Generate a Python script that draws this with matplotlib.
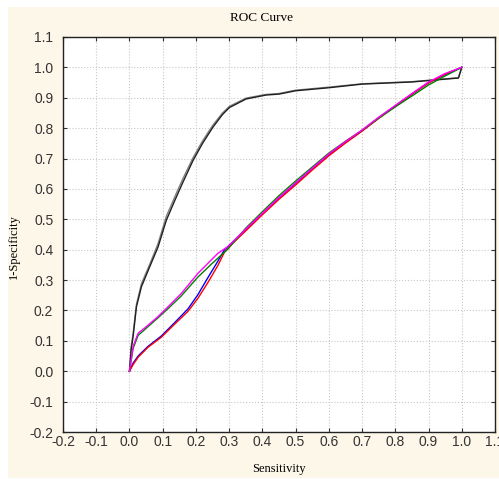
import matplotlib
matplotlib.use("Agg")
import matplotlib.pyplot as plt
from matplotlib.patches import Rectangle

# --- data ---
black_x = [0, 0.005, 0.011, 0.021, 0.036, 0.061, 0.086, 0.111, 0.136, 0.16, 0.191, 0.22, 0.251,
           0.28, 0.301, 0.351, 0.411, 0.45, 0.5, 0.55, 0.6, 0.7, 0.85, 0.99, 1.0]
black_y = [0, 0.07, 0.114, 0.212, 0.278, 0.344, 0.409, 0.497, 0.561, 0.62, 0.693, 0.75, 0.803,
           0.845, 0.868, 0.896, 0.909, 0.912, 0.923, 0.928, 0.933, 0.945, 0.952, 0.965, 1.0]
grey_y = [0, 0.08, 0.125, 0.22, 0.288, 0.352, 0.42, 0.51, 0.573, 0.632, 0.702, 0.758, 0.81,
          0.85, 0.872, 0.899, 0.911, 0.914, 0.925, 0.93, 0.935, 0.946, 0.953, 0.966, 1.0]

blue_x = [0, 0.01, 0.026, 0.056, 0.096, 0.136, 0.176, 0.206, 0.236, 0.266, 0.286, 0.31,
          0.35, 0.4, 0.45, 0.5, 0.55, 0.6, 0.65, 0.7, 0.75, 0.8, 0.85, 0.9, 0.95, 1.0]
blue_y = [0, 0.025, 0.05, 0.082, 0.116, 0.16, 0.205, 0.252, 0.308, 0.362, 0.4, 0.424,
          0.466, 0.518, 0.57, 0.618, 0.666, 0.713, 0.753, 0.792, 0.834, 0.873, 0.912, 0.949, 0.977, 1.0]
red_y = [0, 0.02, 0.046, 0.079, 0.112, 0.155, 0.197, 0.24, 0.292, 0.348, 0.392, 0.42,
         0.462, 0.515, 0.566, 0.613, 0.662, 0.709, 0.751, 0.79, 0.832, 0.872, 0.912, 0.949, 0.978, 1.0]

mag_x = [0, 0.011, 0.026, 0.051, 0.086, 0.116, 0.156, 0.206, 0.246, 0.266, 0.296,
         0.35, 0.4, 0.45, 0.5, 0.55, 0.6, 0.65, 0.7, 0.75, 0.8, 0.85, 0.9, 0.95, 1.0]
mag_y = [0, 0.082, 0.125, 0.147, 0.18, 0.212, 0.256, 0.322, 0.366, 0.388, 0.41,
         0.468, 0.52, 0.572, 0.62, 0.668, 0.715, 0.756, 0.794, 0.836, 0.875, 0.914, 0.952, 0.98, 1.0]
green_y = [0, 0.075, 0.118, 0.142, 0.176, 0.206, 0.248, 0.31, 0.352, 0.372, 0.402,
           0.471, 0.525, 0.578, 0.626, 0.672, 0.718, 0.757, 0.793, 0.833, 0.87, 0.906, 0.942, 0.972, 1.0]

fig = plt.figure(figsize=(4.99, 4.79), dpi=100)
fig.patch.set_facecolor("white")
fig.patches.append(Rectangle((8 / 499, 1 / 479), 491 / 499, 471 / 479,
                             transform=fig.transFigure, facecolor="#fdf7ea",
                             edgecolor="none", zorder=-1))

ax = fig.add_axes([63 / 499, 47 / 479, 432 / 499, 395 / 479])
ax.set_facecolor("white")

ax.plot(black_x, grey_y, color="#808080", lw=1.0)
ax.plot(black_x, black_y, color="#202020", lw=1.0)
ax.plot(blue_x, blue_y, color="blue", lw=1.0)
ax.plot(blue_x, red_y, color="red", lw=1.0)
ax.plot(mag_x, green_y, color="green", lw=1.0)
ax.plot(mag_x, mag_y, color="magenta", lw=1.0)

ticks = [round(-0.2 + 0.1 * i, 1) for i in range(14)]
ax.set_xlim(-0.2, 1.1)
ax.set_ylim(-0.2, 1.1)
ax.set_xticks(ticks)
ax.set_yticks(ticks)
ax.set_xticklabels([f"{t:.1f}" for t in ticks])
ax.set_yticklabels([f"{t:.1f}" for t in ticks])
ax.grid(True, color="#c8c8c8", linestyle=":", linewidth=0.8)
ax.tick_params(direction="in", length=3, top=True, right=True, colors="#333333",
               labelsize=10)
ax.tick_params(axis="x", pad=2)
ax.tick_params(axis="y", pad=7)
for lab in ax.get_xticklabels() + ax.get_yticklabels():
    lab.set_family("Liberation Sans")
for sp in ax.spines.values():
    sp.set_color("#222222")
    sp.set_linewidth(1.0)

fig.text(262 / 499, 1 - 18 / 479, "ROC Curve", ha="center", va="center",
         family="Liberation Serif", fontsize=9.5)
fig.text(279 / 499, 1 - 469 / 479, "Sensitivity", ha="center", va="center",
         family="Liberation Serif", fontsize=9)
fig.text(14 / 499, 1 - 247 / 479, "1-Specificity", ha="center", va="center",
         rotation=90, family="Liberation Serif", fontsize=9)

fig.savefig("out.png", dpi=100, facecolor=fig.get_facecolor())
